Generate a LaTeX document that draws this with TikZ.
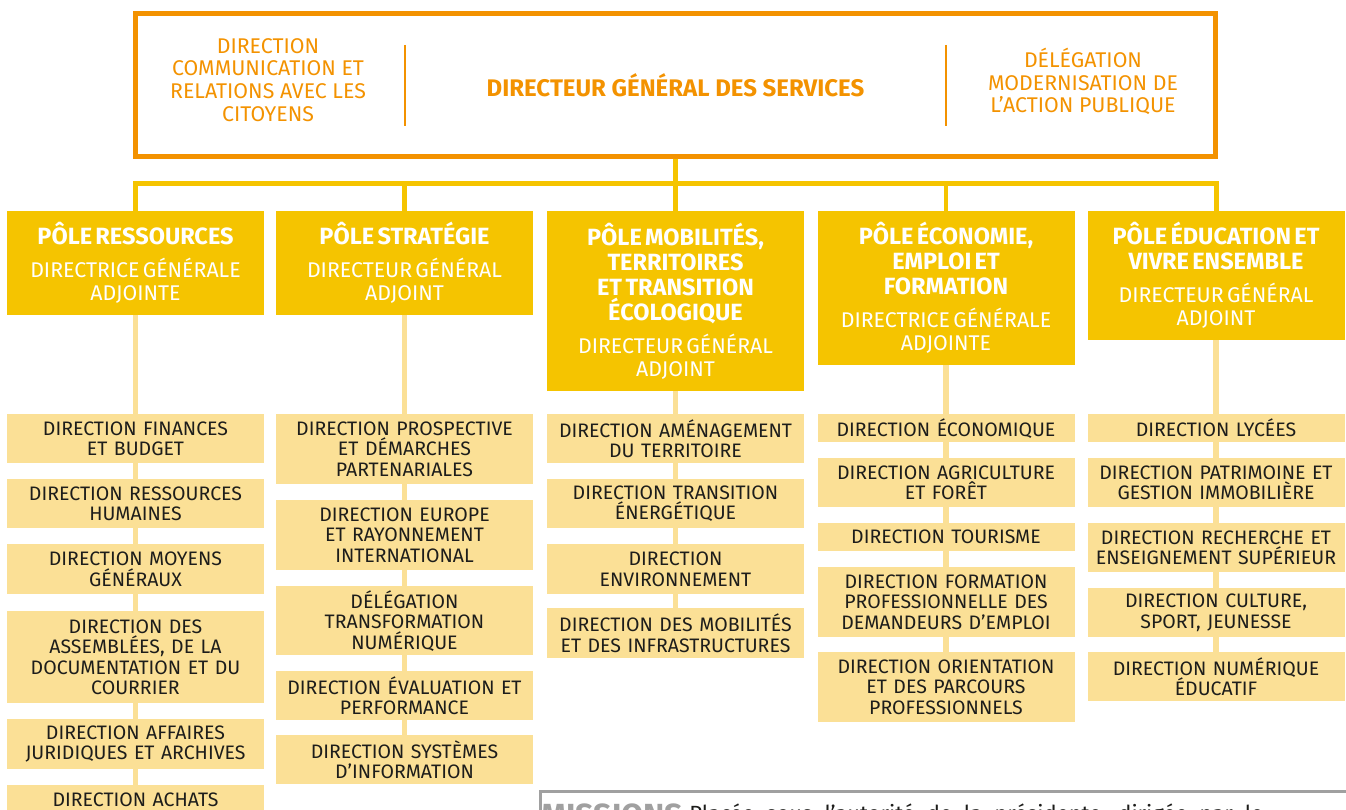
\documentclass[tikz,border=0pt]{standalone}
\usepackage{fontspec}
\setmainfont{Fira Sans}
\usetikzlibrary{backgrounds}
\definecolor{orng}{HTML}{F39200}
\definecolor{ylw}{HTML}{F5C400}
\definecolor{lylw}{HTML}{FBE096}
\definecolor{dtxt}{HTML}{1D1D1B}
\definecolor{gry}{HTML}{A0A0A0}
\newcommand\ptit[1]{{\fontsize{23.5}{25}\selectfont\bfseries #1\par}}
\newcommand\psb[1]{\vspace{10pt}{\fontsize{21.3}{23}\selectfont #1\par}}
\begin{document}
\begin{tikzpicture}[x=1pt,y=-1pt,
  dirbox/.style={fill=lylw, minimum width=257pt, text width=256pt, align=center,
    inner sep=0pt, anchor=north, text=dtxt, font=\fontsize{19.5}{20.5}\selectfont},
  polebox/.style={fill=ylw, minimum width=257pt, text width=256pt, align=center,
    inner sep=0pt, anchor=north, text=white},
  sidetxt/.style={text=orng, align=center, inner sep=0pt, font=\fontsize{21.3}{22.7}\selectfont},
  busline/.style={draw=ylw, line width=5pt},
  dropline/.style={draw=ylw, line width=4.5pt},
  colline/.style={draw=lylw, line width=5.5pt},
  sepline/.style={draw=orng, line width=2.2pt}
]
\useasboundingbox (0,0) rectangle (1346,810);
\clip (0,0) rectangle (1346,810);

% top box
\node[draw=orng, line width=5pt, minimum width=1080pt, minimum height=143pt, inner sep=0pt,
  text=orng, font=\fontsize{24}{26}\selectfont\bfseries] (dgs) at (675.5,85) {DIRECTEUR GÉNÉRAL DES SERVICES};
\node[sidetxt] (com) at (268,80) {DIRECTION\\COMMUNICATION ET\\RELATIONS AVEC LES\\CITOYENS};
\node[sidetxt] (dmap) at (1083,81.5) {DÉLÉGATION\\MODERNISATION DE\\L’ACTION PUBLIQUE};
\draw[sepline] (405,45) -- (405,126);
\draw[sepline] (946,45) -- (946,126);

% poles
\node[polebox, minimum height=104pt] (pr) at (135.5,211) {\ptit{PÔLE RESSOURCES}\psb{DIRECTRICE GÉNÉRALE\\ADJOINTE}};
\node[polebox, minimum height=104pt] (ps) at (404.5,211) {\ptit{PÔLE STRATÉGIE}\psb{DIRECTEUR GÉNÉRAL\\ADJOINT}};
\node[polebox, minimum height=180pt] (pm) at (675.5,211) {\ptit{PÔLE MOBILITÉS,\\TERRITOIRES\\ET TRANSITION\\ÉCOLOGIQUE}\psb{DIRECTEUR GÉNÉRAL\\ADJOINT}};
\node[polebox, minimum height=154pt] (pe) at (946,211) {\ptit{PÔLE ÉCONOMIE,\\EMPLOI ET\\FORMATION}\psb{DIRECTRICE GÉNÉRALE\\ADJOINTE}};
\node[polebox, minimum height=129pt] (pd) at (1216,211) {\ptit{PÔLE ÉDUCATION ET\\VIVRE ENSEMBLE}\psb{DIRECTEUR GÉNÉRAL\\ADJOINT}};

% bus
\coordinate (bus) at (676,184);
\draw[busline] (pr.north) |- (pd.north |- bus) -- (pd.north);
\draw[dropline] (ps.north) -- (ps.north |- bus);
\draw[dropline] (pe.north) -- (pe.north |- bus);
\draw[dropline] (dgs.south) -- (pm.north);

% Ressources
\node[dirbox, minimum height=49pt] (r1) at (135.5,414) {DIRECTION FINANCES\\ET BUDGET};
\node[dirbox, minimum height=49pt] (r2) at (135.5,479) {DIRECTION RESSOURCES\\HUMAINES};
\node[dirbox, minimum height=50pt] (r3) at (135.5,544) {DIRECTION MOYENS\\GÉNÉRAUX};
\node[dirbox, minimum height=92pt] (r4) at (135.5,611) {DIRECTION DES\\ASSEMBLÉES, DE LA\\DOCUMENTATION ET DU\\COURRIER};
\node[dirbox, minimum height=50pt] (r5) at (135.5,719) {DIRECTION AFFAIRES\\JURIDIQUES ET ARCHIVES};
\node[dirbox, minimum height=49pt] (r6) at (135.5,785) {DIRECTION ACHATS\\\phantom{X}};

% Strategie
\node[dirbox, minimum height=70pt] (s1) at (404.5,414) {DIRECTION PROSPECTIVE\\ET DÉMARCHES\\PARTENARIALES};
\node[dirbox, minimum height=70pt] (s2) at (404.5,500) {DIRECTION EUROPE\\ET RAYONNEMENT\\INTERNATIONAL};
\node[dirbox, minimum height=69pt] (s3) at (404.5,586) {DÉLÉGATION\\TRANSFORMATION\\NUMÉRIQUE};
\node[dirbox, minimum height=49pt] (s4) at (404.5,671) {DIRECTION ÉVALUATION ET\\PERFORMANCE};
\node[dirbox, minimum height=49pt] (s5) at (404.5,735) {DIRECTION SYSTÈMES\\D’INFORMATION};

% Mobilites
\node[dirbox, minimum height=49pt] (m1) at (675.5,414) {DIRECTION AMÉNAGEMENT\\DU TERRITOIRE};
\node[dirbox, minimum height=49pt] (m2) at (675.5,479) {DIRECTION TRANSITION\\ÉNERGÉTIQUE};
\node[dirbox, minimum height=50pt] (m3) at (675.5,544) {DIRECTION\\ENVIRONNEMENT};
\node[dirbox, minimum height=50pt] (m4) at (675.5,608) {DIRECTION DES MOBILITÉS\\ET DES INFRASTRUCTURES};

% Economie
\node[dirbox, minimum height=28pt] (e1) at (946,414) {DIRECTION ÉCONOMIQUE};
\node[dirbox, minimum height=49pt] (e2) at (946,458) {DIRECTION AGRICULTURE\\ET FORÊT};
\node[dirbox, minimum height=28pt] (e3) at (946,523) {DIRECTION TOURISME};
\node[dirbox, minimum height=70pt] (e4) at (946,567) {DIRECTION FORMATION\\PROFESSIONNELLE DES\\DEMANDEURS D’EMPLOI};
\node[dirbox, minimum height=70pt] (e5) at (946,652) {DIRECTION ORIENTATION\\ET DES PARCOURS\\PROFESSIONNELS};

% Education
\node[dirbox, minimum height=28pt] (d1) at (1216,414) {DIRECTION LYCÉES};
\node[dirbox, minimum height=49pt] (d2) at (1216,458) {DIRECTION PATRIMOINE ET\\GESTION IMMOBILIÈRE};
\node[dirbox, minimum height=49pt] (d3) at (1216,523) {DIRECTION RECHERCHE ET\\ENSEIGNEMENT SUPÉRIEUR};
\node[dirbox, minimum height=49pt] (d4) at (1216,588) {DIRECTION CULTURE,\\SPORT, JEUNESSE};
\node[dirbox, minimum height=49pt] (d5) at (1216,652) {DIRECTION NUMÉRIQUE\\ÉDUCATIF};

% column lines
\begin{scope}[on background layer]
\draw[colline] (pr.south) -- (r6.north);
\draw[colline] (ps.south) -- (s5.north);
\draw[colline] (pm.south) -- (m4.north);
\draw[colline] (pe.south) -- (e5.north);
\draw[colline] (pd.south) -- (d5.north);
\end{scope}

% missions box
\node[draw=gry, line width=3pt, minimum width=840pt, minimum height=100pt, inner sep=0pt, anchor=north west] (mis) at (538.5,789.5) {};
\node[anchor=base west, inner sep=0pt, text=gry, font=\fontsize{32}{34}\selectfont\bfseries] (mist) at (541,826) {MISSIONS};
\node[anchor=base west, inner sep=0pt, text=dtxt, font=\fontsize{22}{24}\selectfont] (misb) at ([xshift=6pt,yshift=5pt]mist.base east) {\spaceskip=12pt plus 2pt Placée sous l’autorité de la présidente, dirigée par le};
\end{tikzpicture}
\end{document}
